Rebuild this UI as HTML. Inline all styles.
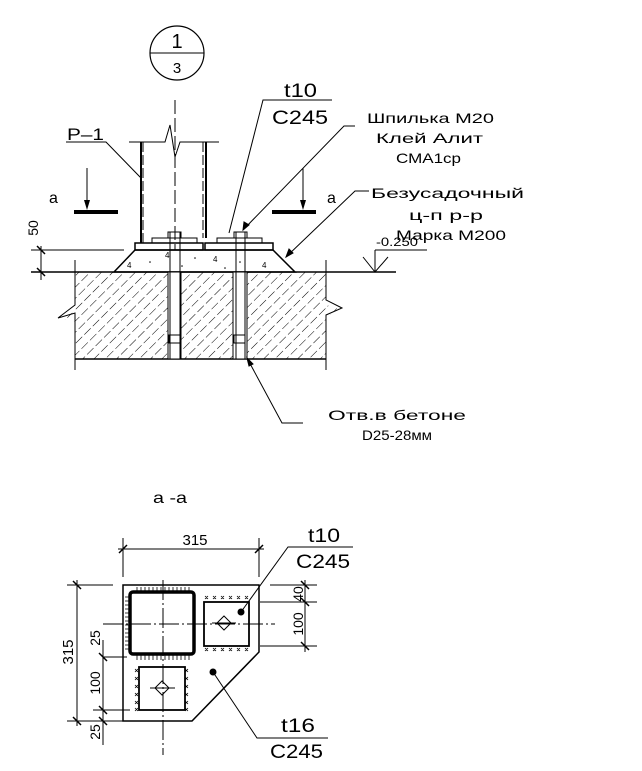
<!DOCTYPE html>
<html><head><meta charset="utf-8"><style>html,body{margin:0;padding:0;background:#fff}svg{display:block}</style></head><body>
<svg width="642" height="771" viewBox="0 0 642 771" xmlns="http://www.w3.org/2000/svg" font-family="Liberation Sans, DejaVu Sans, sans-serif" fill="none" stroke="#000" stroke-width="1">
<defs>
<pattern id="h" width="8" height="12" patternUnits="userSpaceOnUse" patternTransform="rotate(45)">
<line x1="0" y1="0" x2="0" y2="9" stroke="#000" stroke-width="1"/>
</pattern>
</defs>
<circle cx="177" cy="53" r="27" stroke-width="1.2"/>
<line x1="150" y1="53" x2="204" y2="53"/>
<g fill="#000" stroke="none" font-size="20">
<text x="177" y="48" text-anchor="middle">1</text>
<text x="177" y="73" text-anchor="middle" font-size="15">3</text>
</g>
<line x1="175" y1="100" x2="175" y2="250" stroke-dasharray="14,4"/>
<polyline points="129,142 165,142 170,125 175,157 180,142 219,142"/>
<line x1="141" y1="142" x2="141" y2="243" stroke-width="2"/>
<line x1="206" y1="142" x2="206" y2="238" stroke-width="2"/>
<line x1="143" y1="142" x2="143" y2="243" stroke-dasharray="10,3"/>
<line x1="203" y1="142" x2="203" y2="238" stroke-dasharray="10,3"/>
<rect x="135" y="243" width="68" height="7" stroke-width="1.5"/>
<rect x="205" y="243" width="68" height="7" stroke-width="1.5"/>
<rect x="152" y="238" width="45" height="5"/>
<rect x="217" y="238" width="45" height="5"/>
<rect x="168" y="232" width="13" height="6"/>
<rect x="234" y="232" width="13" height="6"/>
<polygon points="135,250 273,250 295,272 114,272" stroke-width="1.5"/>
<g fill="#000" stroke="none" font-size="8">
<text x="165" y="258">4</text><text x="213" y="262">4</text><text x="262" y="268">4</text><text x="127" y="268">4</text>
<circle cx="150" cy="262" r="0.8"/><circle cx="195" cy="258" r="0.8"/><circle cx="240" cy="262" r="0.8"/><circle cx="225" cy="268" r="0.8"/><circle cx="182" cy="266" r="0.8"/>
</g>
<line x1="31" y1="272" x2="396" y2="272" stroke-width="1.5"/>
<polygon points="75,272 326,272 326,305 342,310 326,316 326,359 75,359 75,322 58,318 75,312" fill="url(#h)" stroke="none"/>
<line x1="75" y1="359" x2="326" y2="359" stroke-width="1.5"/>
<polyline points="75,260 75,305 58,318 75,313 75,370"/>
<polyline points="326,260 326,300 342,308 326,315 326,370"/>
<rect x="168" y="272" width="13" height="87" fill="#fff"/>
<rect x="233" y="272" width="14" height="87" fill="#fff"/>
<line x1="170" y1="232" x2="170" y2="359"/><line x1="180" y1="232" x2="180" y2="359"/>
<line x1="236" y1="232" x2="236" y2="359"/><line x1="245" y1="232" x2="245" y2="359"/>
<rect x="169" y="335" width="11" height="8"/><rect x="234" y="335" width="11" height="8"/>
<g fill="#000" stroke="none" font-size="16"><text x="49" y="203">a</text><text x="327" y="203">a</text></g>
<rect x="74" y="210" width="44" height="4" fill="#000" stroke="none"/>
<rect x="272" y="210" width="44" height="4" fill="#000" stroke="none"/>
<line x1="87" y1="168" x2="87" y2="205"/><polygon points="84,200 90,200 87,210" fill="#000" stroke="none"/>
<line x1="303" y1="168" x2="303" y2="205"/><polygon points="300,200 306,200 303,210" fill="#000" stroke="none"/>
<line x1="31" y1="250" x2="124" y2="250"/>
<line x1="41" y1="246" x2="41" y2="280"/>
<line x1="37" y1="246" x2="45" y2="254" stroke-width="1.5"/>
<line x1="37" y1="268" x2="45" y2="276" stroke-width="1.5"/>
<text x="0" y="0" transform="translate(38,228) rotate(-90)" text-anchor="middle" fill="#000" stroke="none" font-size="14">50</text>
<polyline points="363,257 375,272 388,257"/>
<line x1="375" y1="250" x2="375" y2="272"/>
<line x1="375" y1="250" x2="427" y2="250"/>
<text x="376" y="246" fill="#000" stroke="none" font-size="12" textLength="42" lengthAdjust="spacingAndGlyphs">-0.250</text>
<text x="67" y="140" fill="#000" stroke="none" font-size="17" textLength="37" lengthAdjust="spacingAndGlyphs">P–1</text>
<polyline points="66,142 106,142 141,178"/>
<text x="284" y="97" fill="#000" stroke="none" font-size="19" textLength="33" lengthAdjust="spacingAndGlyphs">t10</text>
<text x="272" y="124" fill="#000" stroke="none" font-size="19" textLength="56" lengthAdjust="spacingAndGlyphs">C245</text>
<polyline points="332,100 263,100 229,233"/>
<polyline points="355,126 344,126 243,230"/>
<polygon points="243,230 244,222 249,225" fill="#000"/>
<g fill="#000" stroke="none" font-size="14">
<text x="367" y="123" textLength="127" lengthAdjust="spacingAndGlyphs">Шпилька М20</text>
<text x="376" y="143" textLength="107" lengthAdjust="spacingAndGlyphs">Клей Алит</text>
<text x="396" y="163" textLength="65" lengthAdjust="spacingAndGlyphs">СМА1ср</text>
<text x="371" y="198" textLength="153" lengthAdjust="spacingAndGlyphs">Безусадочный</text>
<text x="409" y="220" textLength="74" lengthAdjust="spacingAndGlyphs">ц-п р-р</text>
<text x="396" y="240" textLength="110" lengthAdjust="spacingAndGlyphs">Марка М200</text>
<text x="328" y="420" textLength="138" lengthAdjust="spacingAndGlyphs">Отв.в бетоне</text>
<text x="362" y="440" textLength="70" lengthAdjust="spacingAndGlyphs">D25-28мм</text>
</g>
<polyline points="369,191 355,191 286,257"/>
<polygon points="286,257 289,249 293,253" fill="#000"/>
<polyline points="303,423 282,423 247,358"/>
<polygon points="247,358 253,364 249,366" fill="#000"/>
<text x="153" y="503" fill="#000" stroke="none" font-size="16" textLength="34" lengthAdjust="spacingAndGlyphs">a -a</text>
<line x1="118" y1="549" x2="264" y2="549"/>
<line x1="123" y1="538" x2="123" y2="577"/><line x1="259" y1="538" x2="259" y2="577"/>
<line x1="119" y1="553" x2="127" y2="545" stroke-width="1.5"/><line x1="255" y1="553" x2="263" y2="545" stroke-width="1.5"/>
<text x="195" y="545" text-anchor="middle" fill="#000" stroke="none" font-size="15">315</text>
<polygon points="123,585 259,585 259,652 192,721 123,721" stroke-width="1.5"/>
<line x1="103" y1="624" x2="275" y2="624" stroke-dasharray="20,3,2,3"/>
<line x1="163" y1="580" x2="163" y2="755" stroke-dasharray="20,3,2,3"/>
<line x1="150" y1="688" x2="175" y2="688"/>
<rect x="130" y="592" width="64" height="62" rx="3" stroke-width="3.5"/>
<g stroke-width="0.8">
<path d="M137 587v5M141 587v5M145 587v5M149 587v5M153 587v5M157 587v5M161 587v5M165 587v5M169 587v5M173 587v5M177 587v5M181 587v5M185 587v5M189 587v5"/>
<path d="M137 655v5M141 655v5M145 655v5M149 655v5M153 655v5M157 655v5M161 655v5M165 655v5M169 655v5M173 655v5M177 655v5M181 655v5M185 655v5M189 655v5"/>
<path d="M125 597h5M125 601h5M125 605h5M125 609h5M125 613h5M125 617h5M125 621h5M125 625h5M125 629h5M125 633h5M125 637h5M125 641h5M125 645h5M125 649h5"/>
</g>
<rect x="204" y="602" width="45" height="44" stroke-width="1.8"/>
<rect x="139" y="667" width="46" height="43" stroke-width="1.8"/>
<g stroke-width="0.8">
<path d="M205 596l3 3M208 596l-3 3M213 596l3 3M216 596l-3 3M221 596l3 3M224 596l-3 3M229 596l3 3M232 596l-3 3M237 596l3 3M240 596l-3 3M245 596l3 3M248 596l-3 3"/>
<path d="M205 648l3 3M208 648l-3 3M213 648l3 3M216 648l-3 3M221 648l3 3M224 648l-3 3M229 648l3 3M232 648l-3 3M237 648l3 3M240 648l-3 3M245 648l3 3M248 648l-3 3"/>
<path d="M135 669l3 3M138 669l-3 3M135 677l3 3M138 677l-3 3M135 685l3 3M138 685l-3 3M135 693l3 3M138 693l-3 3M135 701l3 3M138 701l-3 3M135 708l3 3M138 708l-3 3"/>
<path d="M185 669l3 3M188 669l-3 3M185 677l3 3M188 677l-3 3M185 685l3 3M188 685l-3 3M185 693l3 3M188 693l-3 3M185 701l3 3M188 701l-3 3M185 708l3 3M188 708l-3 3"/>
</g>
<polygon points="224,616 231,623 224,630 217,623"/>
<line x1="212" y1="623" x2="236" y2="623"/>
<polygon points="162,681 169,688 162,695 155,688"/>
<circle cx="241" cy="612" r="3" fill="#000"/>
<circle cx="213" cy="672" r="3" fill="#000"/>
<polyline points="241,612 288,547 353,547"/>
<polyline points="213,672 257,738 328,738"/>
<g fill="#000" stroke="none" font-size="19">
<text x="308" y="542" textLength="32" lengthAdjust="spacingAndGlyphs">t10</text>
<text x="296" y="568" textLength="54" lengthAdjust="spacingAndGlyphs">C245</text>
<text x="281" y="732" textLength="34" lengthAdjust="spacingAndGlyphs">t16</text>
<text x="270" y="758" textLength="53" lengthAdjust="spacingAndGlyphs">C245</text>
</g>
<line x1="67" y1="585" x2="113" y2="585"/><line x1="67" y1="721" x2="123" y2="721"/>
<line x1="77" y1="580" x2="77" y2="726"/>
<line x1="73" y1="581" x2="81" y2="589" stroke-width="1.5"/><line x1="73" y1="717" x2="81" y2="725" stroke-width="1.5"/>
<text transform="translate(73,652) rotate(-90)" text-anchor="middle" fill="#000" stroke="none" font-size="15">315</text>
<line x1="103" y1="640" x2="103" y2="745"/>
<line x1="103" y1="657" x2="127" y2="657"/><line x1="93" y1="710" x2="130" y2="710"/>
<line x1="99" y1="653" x2="107" y2="661" stroke-width="1.5"/><line x1="99" y1="706" x2="107" y2="714" stroke-width="1.5"/><line x1="99" y1="717" x2="107" y2="725" stroke-width="1.5"/>
<g fill="#000" stroke="none" font-size="14" text-anchor="middle">
<text transform="translate(100,638) rotate(-90)">25</text>
<text transform="translate(100,683) rotate(-90)">100</text>
<text transform="translate(100,732) rotate(-90)">25</text>
<text transform="translate(303,594) rotate(-90)">40</text>
<text transform="translate(303,624) rotate(-90)">100</text>
</g>
<line x1="270" y1="585" x2="317" y2="585"/><line x1="260" y1="602" x2="317" y2="602"/><line x1="260" y1="646" x2="317" y2="646"/>
<line x1="305" y1="580" x2="305" y2="652"/>
<line x1="301" y1="581" x2="309" y2="589" stroke-width="1.5"/><line x1="301" y1="598" x2="309" y2="606" stroke-width="1.5"/><line x1="301" y1="642" x2="309" y2="650" stroke-width="1.5"/>
</svg>
</body></html>
